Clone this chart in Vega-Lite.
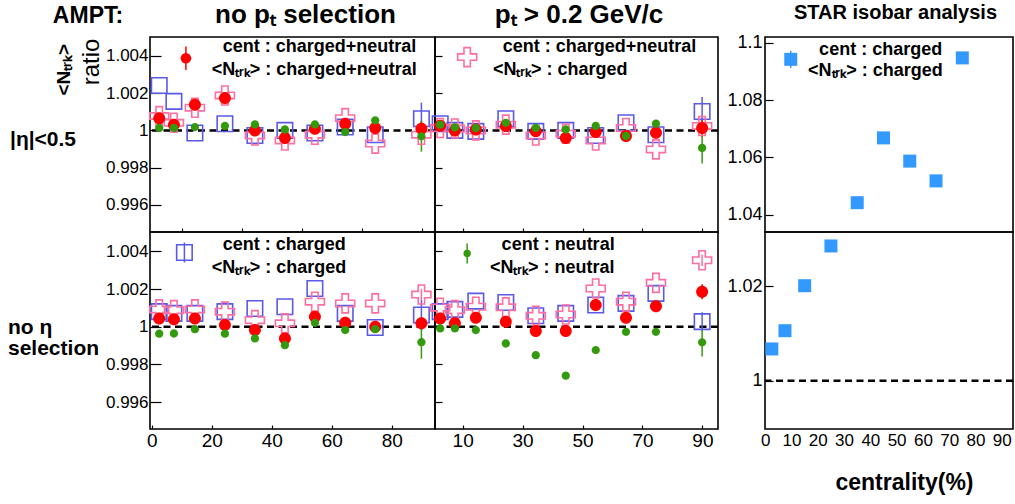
{
  "$schema": "https://vega.github.io/schema/vega-lite/v6.json",
  "background": "white",
  "padding": {"left": 8, "top": 1, "right": 2, "bottom": 0},
  "data": {"values": [{}]},
  "config": {
    "font": "Liberation Sans",
    "view": {"stroke": "black", "strokeWidth": 1.6},
    "axis": {"domain": false, "grid": false, "tickColor": "black", "tickWidth": 1.2, "labelColor": "black", "labelFont": "Liberation Sans", "titleColor": "black", "titleFont": "Liberation Sans"},
    "title": {"font": "Liberation Sans", "fontWeight": "bold", "color": "black", "anchor": "middle", "frame": "group", "offset": 9},
    "text": {"font": "Liberation Sans", "color": "black"}
  },
  "datasets": {
    "etaCut_noPt": [
      {"series": "c_c", "cent": 2.5, "ratio": 1.00241}, {"series": "c_c", "cent": 7.4, "ratio": 1.00156}, {"series": "c_c", "cent": 14.4, "ratio": 0.99986}, {"series": "c_c", "cent": 24.4, "ratio": 1.00036}, {"series": "c_c", "cent": 34.4, "ratio": 0.99973}, {"series": "c_c", "cent": 44.4, "ratio": 1.0}, {"series": "c_c", "cent": 54.4, "ratio": 0.99986}, {"series": "c_c", "cent": 64.5, "ratio": 1.00018}, {"series": "c_c", "cent": 74.5, "ratio": 0.99977}, {"series": "c_c", "cent": 89.9, "ratio": 1.00063, "lo": 0.99977, "hi": 1.00149},
      {"series": "cn_c", "cent": 2.5, "ratio": 1.00077}, {"series": "cn_c", "cent": 7.4, "ratio": 1.00041}, {"series": "cn_c", "cent": 14.4, "ratio": 1.00122}, {"series": "cn_c", "cent": 24.4, "ratio": 1.00188}, {"series": "cn_c", "cent": 34.4, "ratio": 0.99973}, {"series": "cn_c", "cent": 44.4, "ratio": 0.99946}, {"series": "cn_c", "cent": 54.4, "ratio": 0.99977}, {"series": "cn_c", "cent": 64.5, "ratio": 1.00066}, {"series": "cn_c", "cent": 74.5, "ratio": 0.99929}, {"series": "cn_c", "cent": 89.9, "ratio": 0.99977},
      {"series": "cn_cn", "cent": 2.5, "ratio": 1.00066}, {"series": "cn_cn", "cent": 7.4, "ratio": 1.00031}, {"series": "cn_cn", "cent": 14.4, "ratio": 1.00138}, {"series": "cn_cn", "cent": 24.4, "ratio": 1.00174}, {"series": "cn_cn", "cent": 34.4, "ratio": 1.0}, {"series": "cn_cn", "cent": 44.4, "ratio": 0.99959}, {"series": "cn_cn", "cent": 54.4, "ratio": 1.00009}, {"series": "cn_cn", "cent": 64.5, "ratio": 1.00036}, {"series": "cn_cn", "cent": 74.5, "ratio": 1.00013}, {"series": "cn_cn", "cent": 89.9, "ratio": 1.00009, "lo": 0.99969, "hi": 1.00049},
      {"series": "n_n", "cent": 2.5, "ratio": 1.00013}, {"series": "n_n", "cent": 7.4, "ratio": 1.00013}, {"series": "n_n", "cent": 14.4, "ratio": 1.00018}, {"series": "n_n", "cent": 24.4, "ratio": 1.00024}, {"series": "n_n", "cent": 34.4, "ratio": 1.00032}, {"series": "n_n", "cent": 44.4, "ratio": 1.00005}, {"series": "n_n", "cent": 54.4, "ratio": 1.00032}, {"series": "n_n", "cent": 64.5, "ratio": 0.99991}, {"series": "n_n", "cent": 74.5, "ratio": 1.00054}, {"series": "n_n", "cent": 89.9, "ratio": 0.99968, "lo": 0.99886, "hi": 1.0005}
    ],
    "etaCut_pt": [
      {"series": "c_c", "cent": 2.5, "ratio": 1.00036}, {"series": "c_c", "cent": 7.4, "ratio": 1.0}, {"series": "c_c", "cent": 14.4, "ratio": 0.99995}, {"series": "c_c", "cent": 24.4, "ratio": 1.00063}, {"series": "c_c", "cent": 34.4, "ratio": 0.99995}, {"series": "c_c", "cent": 44.4, "ratio": 1.0}, {"series": "c_c", "cent": 54.4, "ratio": 0.99973}, {"series": "c_c", "cent": 64.5, "ratio": 1.00041}, {"series": "c_c", "cent": 74.5, "ratio": 0.99977}, {"series": "c_c", "cent": 89.9, "ratio": 1.00102, "lo": 1.00025, "hi": 1.00179},
      {"series": "cn_c", "cent": 2.5, "ratio": 1.00013}, {"series": "cn_c", "cent": 7.4, "ratio": 1.0001}, {"series": "cn_c", "cent": 14.4, "ratio": 1.0}, {"series": "cn_c", "cent": 24.4, "ratio": 1.00031}, {"series": "cn_c", "cent": 34.4, "ratio": 0.99973}, {"series": "cn_c", "cent": 44.4, "ratio": 0.99982}, {"series": "cn_c", "cent": 54.4, "ratio": 0.99946}, {"series": "cn_c", "cent": 64.5, "ratio": 1.00013}, {"series": "cn_c", "cent": 74.5, "ratio": 0.99898}, {"series": "cn_c", "cent": 89.9, "ratio": 1.00024, "lo": 0.99994, "hi": 1.00054},
      {"series": "cn_cn", "cent": 2.5, "ratio": 1.00025}, {"series": "cn_cn", "cent": 7.4, "ratio": 1.0}, {"series": "cn_cn", "cent": 14.4, "ratio": 1.00005}, {"series": "cn_cn", "cent": 24.4, "ratio": 1.00024}, {"series": "cn_cn", "cent": 34.4, "ratio": 0.99995}, {"series": "cn_cn", "cent": 44.4, "ratio": 0.99959}, {"series": "cn_cn", "cent": 54.4, "ratio": 0.99991}, {"series": "cn_cn", "cent": 64.5, "ratio": 0.9997}, {"series": "cn_cn", "cent": 74.5, "ratio": 0.99988}, {"series": "cn_cn", "cent": 89.9, "ratio": 1.00013, "lo": 0.99963, "hi": 1.00063},
      {"series": "n_n", "cent": 2.5, "ratio": 1.00031}, {"series": "n_n", "cent": 7.4, "ratio": 1.00016}, {"series": "n_n", "cent": 14.4, "ratio": 1.00013}, {"series": "n_n", "cent": 24.4, "ratio": 1.00041}, {"series": "n_n", "cent": 34.4, "ratio": 1.00013}, {"series": "n_n", "cent": 44.4, "ratio": 1.00005}, {"series": "n_n", "cent": 54.4, "ratio": 1.00024}, {"series": "n_n", "cent": 64.5, "ratio": 0.9997}, {"series": "n_n", "cent": 74.5, "ratio": 1.00036}, {"series": "n_n", "cent": 89.9, "ratio": 0.99906, "lo": 0.99822, "hi": 0.9999}
    ],
    "noEta_noPt": [
      {"series": "c_c", "cent": 2.5, "ratio": 1.0008}, {"series": "c_c", "cent": 7.4, "ratio": 1.00071}, {"series": "c_c", "cent": 14.4, "ratio": 1.00071}, {"series": "c_c", "cent": 24.4, "ratio": 1.0008}, {"series": "c_c", "cent": 34.4, "ratio": 1.00097}, {"series": "c_c", "cent": 44.4, "ratio": 1.00106}, {"series": "c_c", "cent": 54.4, "ratio": 1.00203}, {"series": "c_c", "cent": 64.5, "ratio": 1.00071}, {"series": "c_c", "cent": 74.5, "ratio": 0.99996}, {"series": "c_c", "cent": 89.9, "ratio": 1.00062, "lo": 0.99982, "hi": 1.00142},
      {"series": "cn_c", "cent": 2.5, "ratio": 1.00092}, {"series": "cn_c", "cent": 7.4, "ratio": 1.00088}, {"series": "cn_c", "cent": 14.4, "ratio": 1.00092}, {"series": "cn_c", "cent": 24.4, "ratio": 1.0008}, {"series": "cn_c", "cent": 34.4, "ratio": 1.00035}, {"series": "cn_c", "cent": 44.4, "ratio": 1.00018}, {"series": "cn_c", "cent": 54.4, "ratio": 1.00133}, {"series": "cn_c", "cent": 64.5, "ratio": 1.00124}, {"series": "cn_c", "cent": 74.5, "ratio": 1.00124}, {"series": "cn_c", "cent": 89.9, "ratio": 1.00171, "lo": 1.00141, "hi": 1.00201},
      {"series": "cn_cn", "cent": 2.5, "ratio": 1.00044}, {"series": "cn_cn", "cent": 7.4, "ratio": 1.0004}, {"series": "cn_cn", "cent": 14.4, "ratio": 1.00044}, {"series": "cn_cn", "cent": 24.4, "ratio": 1.00009}, {"series": "cn_cn", "cent": 34.4, "ratio": 0.99982}, {"series": "cn_cn", "cent": 44.4, "ratio": 0.99938}, {"series": "cn_cn", "cent": 54.4, "ratio": 1.00053}, {"series": "cn_cn", "cent": 64.5, "ratio": 1.00021}, {"series": "cn_cn", "cent": 74.5, "ratio": 1.0}, {"series": "cn_cn", "cent": 89.9, "ratio": 1.00018, "lo": 0.99988, "hi": 1.00048},
      {"series": "n_n", "cent": 2.5, "ratio": 0.99963}, {"series": "n_n", "cent": 7.4, "ratio": 0.99964}, {"series": "n_n", "cent": 14.4, "ratio": 0.99987}, {"series": "n_n", "cent": 24.4, "ratio": 0.99963}, {"series": "n_n", "cent": 34.4, "ratio": 0.99938}, {"series": "n_n", "cent": 44.4, "ratio": 0.99902}, {"series": "n_n", "cent": 54.4, "ratio": 1.00021}, {"series": "n_n", "cent": 64.5, "ratio": 0.99982}, {"series": "n_n", "cent": 74.5, "ratio": 0.99987}, {"series": "n_n", "cent": 89.9, "ratio": 0.99918, "lo": 0.9983, "hi": 1.00006}
    ],
    "noEta_pt": [
      {"series": "c_c", "cent": 2.5, "ratio": 1.0008}, {"series": "c_c", "cent": 7.4, "ratio": 1.00092}, {"series": "c_c", "cent": 14.4, "ratio": 1.00136}, {"series": "c_c", "cent": 24.4, "ratio": 1.00129}, {"series": "c_c", "cent": 34.4, "ratio": 1.00058}, {"series": "c_c", "cent": 44.4, "ratio": 1.00071}, {"series": "c_c", "cent": 54.4, "ratio": 1.00115}, {"series": "c_c", "cent": 64.5, "ratio": 1.00124}, {"series": "c_c", "cent": 74.5, "ratio": 1.00177}, {"series": "c_c", "cent": 89.9, "ratio": 1.00027, "lo": 0.99977, "hi": 1.00077},
      {"series": "cn_c", "cent": 2.5, "ratio": 1.00101}, {"series": "cn_c", "cent": 7.4, "ratio": 1.00088}, {"series": "cn_c", "cent": 14.4, "ratio": 1.00106}, {"series": "cn_c", "cent": 24.4, "ratio": 1.00103}, {"series": "cn_c", "cent": 34.4, "ratio": 1.00058}, {"series": "cn_c", "cent": 44.4, "ratio": 1.00065}, {"series": "cn_c", "cent": 54.4, "ratio": 1.00203}, {"series": "cn_c", "cent": 64.5, "ratio": 1.00133}, {"series": "cn_c", "cent": 74.5, "ratio": 1.00233}, {"series": "cn_c", "cent": 89.9, "ratio": 1.00353, "lo": 1.00323, "hi": 1.00383},
      {"series": "cn_cn", "cent": 2.5, "ratio": 1.00044}, {"series": "cn_cn", "cent": 7.4, "ratio": 1.00018}, {"series": "cn_cn", "cent": 14.4, "ratio": 1.00048}, {"series": "cn_cn", "cent": 24.4, "ratio": 1.00027}, {"series": "cn_cn", "cent": 34.4, "ratio": 0.99977}, {"series": "cn_cn", "cent": 44.4, "ratio": 0.99977}, {"series": "cn_cn", "cent": 54.4, "ratio": 1.00115}, {"series": "cn_cn", "cent": 64.5, "ratio": 1.00048}, {"series": "cn_cn", "cent": 74.5, "ratio": 1.00109}, {"series": "cn_cn", "cent": 89.9, "ratio": 1.00186, "lo": 1.00146, "hi": 1.00226},
      {"series": "n_n", "cent": 2.5, "ratio": 0.99991}, {"series": "n_n", "cent": 7.4, "ratio": 0.99991}, {"series": "n_n", "cent": 14.4, "ratio": 0.99982}, {"series": "n_n", "cent": 24.4, "ratio": 0.99911}, {"series": "n_n", "cent": 34.4, "ratio": 0.99849}, {"series": "n_n", "cent": 44.4, "ratio": 0.9974}, {"series": "n_n", "cent": 54.4, "ratio": 0.99876}, {"series": "n_n", "cent": 64.5, "ratio": 0.99973}, {"series": "n_n", "cent": 74.5, "ratio": 0.99973}, {"series": "n_n", "cent": 89.9, "ratio": 0.99917, "lo": 0.99842, "hi": 0.99992}
    ],
    "star": [
      {"cent": 2.5, "ratio": 1.00674}, {"cent": 7.5, "ratio": 1.0106}, {"cent": 15, "ratio": 1.0201}, {"cent": 25, "ratio": 1.0285}, {"cent": 35, "ratio": 1.0442}, {"cent": 45, "ratio": 1.0668}, {"cent": 55, "ratio": 1.0587}, {"cent": 65, "ratio": 1.0518}, {"cent": 75, "ratio": 1.0947}
    ]
  },
  "columns": 5,
  "spacing": 0,
  "bounds": "flush",
  "concat": [
    {
      "width": 142, "height": 195, "view": {"stroke": null},
      "title": {"text": "AMPT:", "fontSize": 23, "dx": 9},
      "layer": [
        {"mark": {"type": "text", "fontSize": 21, "fontWeight": "bold", "align": "left", "baseline": "middle", "dx": -69, "dy": 5.7}, "encoding": {"text": {"value": "|η|<0.5"}}},
        {"mark": {"type": "text", "fontSize": 19, "fontWeight": "bold", "align": "center", "baseline": "middle", "angle": 270, "dx": 64.8, "dy": -15}, "encoding": {"text": {"value": "<Nₜᵣₖ>"}}},
        {"mark": {"type": "text", "fontSize": 24, "align": "center", "baseline": "middle", "angle": 270, "dx": 72.5, "dy": 12.7}, "encoding": {"text": {"value": "ratio"}}}
      ]
    },
    {
      "width": 285, "height": 195,
      "title": {"text": "no pₜ selection", "fontSize": 26, "dx": 13},
      "layer": [
        {"mark": {"type": "rule", "strokeDash": [7, 4.5], "strokeWidth": 2.5, "color": "black"}, "encoding": {"y": {"datum": 1}}},
        {
          "data": {"name": "etaCut_noPt"},
          "encoding": {
            "x": {"field": "cent", "type": "quantitative", "title": null, "scale": {"domain": [-0.57, 94.43], "nice": false, "zero": false}, "axis": {"values": [10, 20, 30, 40, 50, 60, 70, 80, 90], "labels": false, "tickSize": -4}},
            "y": {"field": "ratio", "type": "quantitative", "title": null, "scale": {"domain": [0.99454, 1.00502], "nice": false, "zero": false}, "axis": {"values": [0.996, 0.998, 1, 1.002, 1.004], "tickSize": -11, "labelPadding": 13, "labelFontSize": 17, "labelExpr": "format(datum.value, '.3~f')"}}
          },
          "layer": [
            {"transform": [{"filter": "isValid(datum.lo)"}], "mark": {"type": "rule", "strokeWidth": 1.5}, "encoding": {"y": {"field": "lo", "type": "quantitative", "title": null}, "y2": {"field": "hi"}, "color": {"field": "series", "type": "nominal", "legend": null, "scale": {"domain": ["c_c", "cn_c", "cn_cn", "n_n"], "range": ["#5a5ae6", "#ff6ea0", "#ff0000", "#339a0e"]}}}},
            {"mark": {"type": "point", "opacity": 1, "strokeWidth": 1.6, "size": 400}, "encoding": {
              "shape": {"field": "series", "type": "nominal", "legend": null, "scale": {"domain": ["c_c", "cn_c", "cn_cn", "n_n"], "range": ["M-0.775,-0.775H0.775V0.775H-0.775Z", "M-0.32,-0.95H0.32V-0.32H0.95V0.32H0.32V0.95H-0.32V0.32H-0.95V-0.32H-0.32Z", "M-0.6,0A0.6,0.6,0,1,0,0.6,0A0.6,0.6,0,1,0,-0.6,0Z", "M-0.415,0A0.415,0.415,0,1,0,0.415,0A0.415,0.415,0,1,0,-0.415,0Z"]}},
              "fill": {"field": "series", "type": "nominal", "legend": null, "scale": {"domain": ["c_c", "cn_c", "cn_cn", "n_n"], "range": ["transparent", "transparent", "#ff0000", "#339a0e"]}},
              "stroke": {"field": "series", "type": "nominal", "legend": null, "scale": {"domain": ["c_c", "cn_c", "cn_cn", "n_n"], "range": ["#5a5ae6", "#ff6ea0", "transparent", "transparent"]}}
            }}
          ]
        },
        {"mark": {"type": "rule", "color": "#ff0000", "strokeWidth": 1.5}, "encoding": {"x": {"datum": 11.4}, "y": {"datum": 1.00325}, "y2": {"datum": 1.00451}}},
        {"mark": {"type": "point", "shape": "circle", "filled": true, "color": "#ff0000", "size": 113, "opacity": 1}, "encoding": {"x": {"datum": 11.4}, "y": {"datum": 1.00388}}},
        {"mark": {"type": "text", "align": "left", "baseline": "middle", "fontSize": 18, "fontWeight": "bold"}, "encoding": {"x": {"datum": 23.7}, "y": {"datum": 1.00448}, "text": {"value": "cent : charged+neutral"}}},
        {"mark": {"type": "text", "align": "left", "baseline": "middle", "fontSize": 18, "fontWeight": "bold"}, "encoding": {"x": {"datum": 20}, "y": {"datum": 1.00323}, "text": {"value": "<Nₜᵣₖ> : charged+neutral"}}}
      ]
    },
    {
      "width": 283, "height": 195,
      "title": {"text": "pₜ > 0.2 GeV/c", "fontSize": 26, "dx": 2.5},
      "layer": [
        {"mark": {"type": "rule", "strokeDash": [7, 4.5], "strokeWidth": 2.5, "color": "black"}, "encoding": {"y": {"datum": 1}}},
        {
          "data": {"name": "etaCut_pt"},
          "encoding": {
            "x": {"field": "cent", "type": "quantitative", "title": null, "scale": {"domain": [0.77, 95.2], "nice": false, "zero": false}, "axis": {"values": [10, 20, 30, 40, 50, 60, 70, 80, 90], "labels": false, "tickSize": -4}},
            "y": {"field": "ratio", "type": "quantitative", "title": null, "scale": {"domain": [0.99454, 1.00502], "nice": false, "zero": false}, "axis": {"values": [0.996, 0.998, 1, 1.002, 1.004], "tickSize": -7, "labels": false}}
          },
          "layer": [
            {"transform": [{"filter": "isValid(datum.lo)"}], "mark": {"type": "rule", "strokeWidth": 1.5}, "encoding": {"y": {"field": "lo", "type": "quantitative", "title": null}, "y2": {"field": "hi"}, "color": {"field": "series", "type": "nominal", "legend": null, "scale": {"domain": ["c_c", "cn_c", "cn_cn", "n_n"], "range": ["#5a5ae6", "#ff6ea0", "#ff0000", "#339a0e"]}}}},
            {"mark": {"type": "point", "opacity": 1, "strokeWidth": 1.6, "size": 400}, "encoding": {
              "shape": {"field": "series", "type": "nominal", "legend": null, "scale": {"domain": ["c_c", "cn_c", "cn_cn", "n_n"], "range": ["M-0.775,-0.775H0.775V0.775H-0.775Z", "M-0.32,-0.95H0.32V-0.32H0.95V0.32H0.32V0.95H-0.32V0.32H-0.95V-0.32H-0.32Z", "M-0.6,0A0.6,0.6,0,1,0,0.6,0A0.6,0.6,0,1,0,-0.6,0Z", "M-0.415,0A0.415,0.415,0,1,0,0.415,0A0.415,0.415,0,1,0,-0.415,0Z"]}},
              "fill": {"field": "series", "type": "nominal", "legend": null, "scale": {"domain": ["c_c", "cn_c", "cn_cn", "n_n"], "range": ["transparent", "transparent", "#ff0000", "#339a0e"]}},
              "stroke": {"field": "series", "type": "nominal", "legend": null, "scale": {"domain": ["c_c", "cn_c", "cn_cn", "n_n"], "range": ["#5a5ae6", "#ff6ea0", "transparent", "transparent"]}}
            }}
          ]
        },
        {"mark": {"type": "point", "shape": "M-0.32,-0.95H0.32V-0.32H0.95V0.32H0.32V0.95H-0.32V0.32H-0.95V-0.32H-0.32Z", "filled": false, "color": "#ff6ea0", "strokeWidth": 1.6, "size": 400, "opacity": 1}, "encoding": {"x": {"datum": 11.5}, "y": {"datum": 1.00394}}},
        {"mark": {"type": "text", "align": "left", "baseline": "middle", "fontSize": 18, "fontWeight": "bold"}, "encoding": {"x": {"datum": 23.4}, "y": {"datum": 1.00448}, "text": {"value": "cent : charged+neutral"}}},
        {"mark": {"type": "text", "align": "left", "baseline": "middle", "fontSize": 18, "fontWeight": "bold"}, "encoding": {"x": {"datum": 20.1}, "y": {"datum": 1.00323}, "text": {"value": "<Nₜᵣₖ> : charged"}}}
      ]
    },
    {"width": 47, "height": 195, "view": {"stroke": null}, "data": {"values": []}, "mark": "point"},
    {
      "width": 248, "height": 195,
      "title": {"text": "STAR isobar analysis", "fontSize": 20, "dx": 6.5, "offset": 11},
      "layer": [
        {"data": {"name": "star"}, "mark": {"type": "square", "color": "#3399ff", "size": 169, "opacity": 1, "clip": true}, "encoding": {
          "x": {"field": "cent", "type": "quantitative", "title": null, "scale": {"domain": [-0.1, 94.3], "nice": false, "zero": false}, "axis": null},
          "y": {"field": "ratio", "type": "quantitative", "title": null, "scale": {"domain": [1.03397, 1.10199], "nice": false, "zero": false}, "axis": {"values": [1.04, 1.06, 1.08, 1.1], "tickSize": -8, "labelPadding": 11, "labelFontSize": 18, "labelExpr": "format(datum.value, '.2~f')"}}
        }},
        {"mark": {"type": "rule", "color": "#3399ff", "strokeWidth": 1.5}, "encoding": {"x": {"datum": 9.7}, "y": {"datum": 1.0912}, "y2": {"datum": 1.0972}}},
        {"mark": {"type": "square", "color": "#3399ff", "size": 169, "opacity": 1}, "encoding": {"x": {"datum": 9.7}, "y": {"datum": 1.0942}}},
        {"mark": {"type": "text", "align": "left", "baseline": "middle", "fontSize": 18, "fontWeight": "bold"}, "encoding": {"x": {"datum": 20.5}, "y": {"datum": 1.09731}, "text": {"value": "cent : charged"}}},
        {"mark": {"type": "text", "align": "left", "baseline": "middle", "fontSize": 18, "fontWeight": "bold"}, "encoding": {"x": {"datum": 16.3}, "y": {"datum": 1.09013}, "text": {"value": "<Nₜᵣₖ> : charged"}}}
      ]
    },
    {
      "width": 142, "height": 197, "view": {"stroke": null},
      "mark": {"type": "text", "fontSize": 21, "fontWeight": "bold", "align": "left", "baseline": "middle", "lineBreak": "\n", "lineHeight": 21, "dx": -71, "dy": -2.3},
      "encoding": {"text": {"value": "no η\nselection"}}
    },
    {
      "width": 285, "height": 197,
      "layer": [
        {"mark": {"type": "rule", "strokeDash": [7, 4.5], "strokeWidth": 2.5, "color": "black"}, "encoding": {"y": {"datum": 1}}},
        {
          "data": {"name": "noEta_noPt"},
          "encoding": {
            "x": {"field": "cent", "type": "quantitative", "title": null, "scale": {"domain": [-0.57, 94.43], "nice": false, "zero": false}, "axis": {"values": [0, 10, 20, 30, 40, 50, 60, 70, 80, 90], "tickSize": -4, "labelPadding": 6, "labelFontSize": 19, "labelFlush": false}},
            "y": {"field": "ratio", "type": "quantitative", "title": null, "scale": {"domain": [0.99457, 1.00503], "nice": false, "zero": false}, "axis": {"values": [0.996, 0.998, 1, 1.002, 1.004], "tickSize": -11, "labelPadding": 13, "labelFontSize": 17, "labelExpr": "format(datum.value, '.3~f')"}}
          },
          "layer": [
            {"transform": [{"filter": "isValid(datum.lo)"}], "mark": {"type": "rule", "strokeWidth": 1.5}, "encoding": {"y": {"field": "lo", "type": "quantitative", "title": null}, "y2": {"field": "hi"}, "color": {"field": "series", "type": "nominal", "legend": null, "scale": {"domain": ["c_c", "cn_c", "cn_cn", "n_n"], "range": ["#5a5ae6", "#ff6ea0", "#ff0000", "#339a0e"]}}}},
            {"mark": {"type": "point", "opacity": 1, "strokeWidth": 1.6, "size": 400}, "encoding": {
              "shape": {"field": "series", "type": "nominal", "legend": null, "scale": {"domain": ["c_c", "cn_c", "cn_cn", "n_n"], "range": ["M-0.775,-0.775H0.775V0.775H-0.775Z", "M-0.32,-0.95H0.32V-0.32H0.95V0.32H0.32V0.95H-0.32V0.32H-0.95V-0.32H-0.32Z", "M-0.6,0A0.6,0.6,0,1,0,0.6,0A0.6,0.6,0,1,0,-0.6,0Z", "M-0.415,0A0.415,0.415,0,1,0,0.415,0A0.415,0.415,0,1,0,-0.415,0Z"]}},
              "fill": {"field": "series", "type": "nominal", "legend": null, "scale": {"domain": ["c_c", "cn_c", "cn_cn", "n_n"], "range": ["transparent", "transparent", "#ff0000", "#339a0e"]}},
              "stroke": {"field": "series", "type": "nominal", "legend": null, "scale": {"domain": ["c_c", "cn_c", "cn_cn", "n_n"], "range": ["#5a5ae6", "#ff6ea0", "transparent", "transparent"]}}
            }}
          ]
        },
        {"mark": {"type": "rule", "color": "#5a5ae6", "strokeWidth": 1.5}, "encoding": {"x": {"datum": 10.9}, "y": {"datum": 1.00341}, "y2": {"datum": 1.00447}}},
        {"mark": {"type": "point", "shape": "M-0.775,-0.775H0.775V0.775H-0.775Z", "filled": false, "color": "#5a5ae6", "strokeWidth": 1.6, "size": 400, "opacity": 1}, "encoding": {"x": {"datum": 10.9}, "y": {"datum": 1.00394}}},
        {"mark": {"type": "text", "align": "left", "baseline": "middle", "fontSize": 18, "fontWeight": "bold"}, "encoding": {"x": {"datum": 23.7}, "y": {"datum": 1.00432}, "text": {"value": "cent : charged"}}},
        {"mark": {"type": "text", "align": "left", "baseline": "middle", "fontSize": 18, "fontWeight": "bold"}, "encoding": {"x": {"datum": 20}, "y": {"datum": 1.00312}, "text": {"value": "<Nₜᵣₖ> : charged"}}}
      ]
    },
    {
      "width": 283, "height": 197,
      "layer": [
        {"mark": {"type": "rule", "strokeDash": [7, 4.5], "strokeWidth": 2.5, "color": "black"}, "encoding": {"y": {"datum": 1}}},
        {
          "data": {"name": "noEta_pt"},
          "encoding": {
            "x": {"field": "cent", "type": "quantitative", "title": null, "scale": {"domain": [0.77, 95.2], "nice": false, "zero": false}, "axis": {"values": [10, 20, 30, 40, 50, 60, 70, 80, 90], "tickSize": -4, "labelPadding": 6, "labelFontSize": 19, "labelFlush": false}},
            "y": {"field": "ratio", "type": "quantitative", "title": null, "scale": {"domain": [0.99457, 1.00503], "nice": false, "zero": false}, "axis": {"values": [0.996, 0.998, 1, 1.002, 1.004], "tickSize": -7, "labels": false}}
          },
          "layer": [
            {"transform": [{"filter": "isValid(datum.lo)"}], "mark": {"type": "rule", "strokeWidth": 1.5}, "encoding": {"y": {"field": "lo", "type": "quantitative", "title": null}, "y2": {"field": "hi"}, "color": {"field": "series", "type": "nominal", "legend": null, "scale": {"domain": ["c_c", "cn_c", "cn_cn", "n_n"], "range": ["#5a5ae6", "#ff6ea0", "#ff0000", "#339a0e"]}}}},
            {"mark": {"type": "point", "opacity": 1, "strokeWidth": 1.6, "size": 400}, "encoding": {
              "shape": {"field": "series", "type": "nominal", "legend": null, "scale": {"domain": ["c_c", "cn_c", "cn_cn", "n_n"], "range": ["M-0.775,-0.775H0.775V0.775H-0.775Z", "M-0.32,-0.95H0.32V-0.32H0.95V0.32H0.32V0.95H-0.32V0.32H-0.95V-0.32H-0.32Z", "M-0.6,0A0.6,0.6,0,1,0,0.6,0A0.6,0.6,0,1,0,-0.6,0Z", "M-0.415,0A0.415,0.415,0,1,0,0.415,0A0.415,0.415,0,1,0,-0.415,0Z"]}},
              "fill": {"field": "series", "type": "nominal", "legend": null, "scale": {"domain": ["c_c", "cn_c", "cn_cn", "n_n"], "range": ["transparent", "transparent", "#ff0000", "#339a0e"]}},
              "stroke": {"field": "series", "type": "nominal", "legend": null, "scale": {"domain": ["c_c", "cn_c", "cn_cn", "n_n"], "range": ["#5a5ae6", "#ff6ea0", "transparent", "transparent"]}}
            }}
          ]
        },
        {"mark": {"type": "rule", "color": "#339a0e", "strokeWidth": 1.5}, "encoding": {"x": {"datum": 11.5}, "y": {"datum": 1.00336}, "y2": {"datum": 1.00442}}},
        {"mark": {"type": "point", "shape": "circle", "filled": true, "color": "#339a0e", "size": 54, "opacity": 1}, "encoding": {"x": {"datum": 11.5}, "y": {"datum": 1.00389}}},
        {"mark": {"type": "text", "align": "left", "baseline": "middle", "fontSize": 18, "fontWeight": "bold"}, "encoding": {"x": {"datum": 23}, "y": {"datum": 1.00432}, "text": {"value": "cent : neutral"}}},
        {"mark": {"type": "text", "align": "left", "baseline": "middle", "fontSize": 18, "fontWeight": "bold"}, "encoding": {"x": {"datum": 19.1}, "y": {"datum": 1.00312}, "text": {"value": "<Nₜᵣₖ> : neutral"}}}
      ]
    },
    {"width": 47, "height": 197, "view": {"stroke": null}, "data": {"values": []}, "mark": "point"},
    {
      "width": 248, "height": 197,
      "layer": [
        {"mark": {"type": "rule", "strokeDash": [7, 4.5], "strokeWidth": 2.5, "color": "black"}, "encoding": {"y": {"datum": 1}}},
        {"data": {"name": "star"}, "mark": {"type": "square", "color": "#3399ff", "size": 169, "opacity": 1, "clip": true}, "encoding": {
          "x": {"field": "cent", "type": "quantitative", "title": "centrality(%)", "scale": {"domain": [-0.1, 94.3], "nice": false, "zero": false}, "axis": {"values": [0, 10, 20, 30, 40, 50, 60, 70, 80, 90], "ticks": false, "labelPadding": 3, "labelFontSize": 17, "labelFlush": false, "titleFontSize": 23, "titleFontWeight": "bold", "titleX": 139, "titleY": 53, "titleBaseline": "middle"}},
          "y": {"field": "ratio", "type": "quantitative", "title": null, "scale": {"domain": [0.98983, 1.03145], "nice": false, "zero": false}, "axis": {"values": [1, 1.02], "tickSize": -8, "labelPadding": 11, "labelFontSize": 18, "labelExpr": "format(datum.value, '.2~f')"}}
        }}
      ]
    }
  ]
}
